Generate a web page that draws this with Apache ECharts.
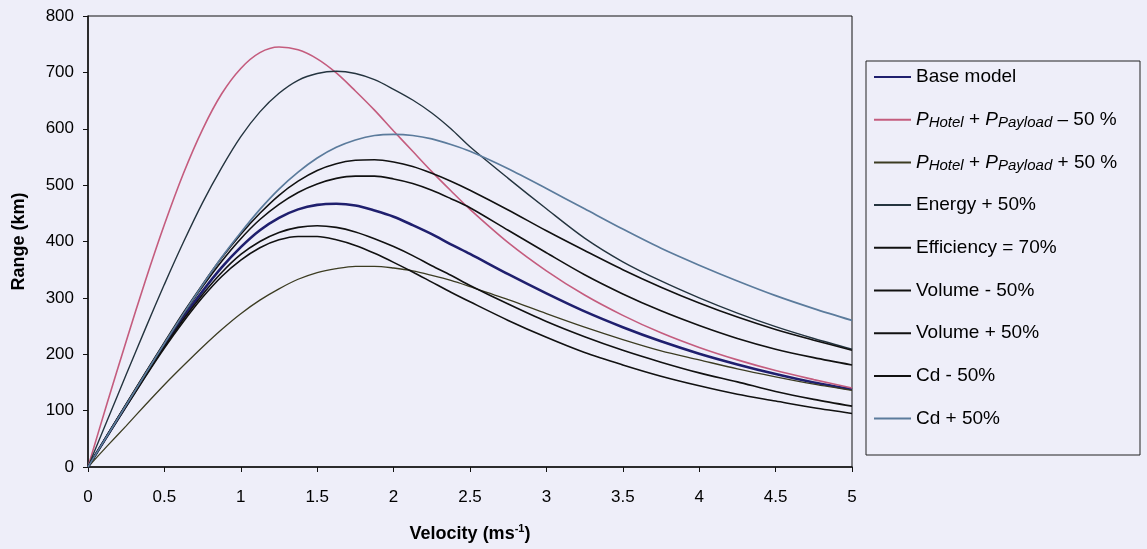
<!DOCTYPE html>
<html>
<head>
<meta charset="utf-8">
<style>
html, body { margin: 0; padding: 0; background: #eeeef9; }
#chart { width: 1147px; height: 549px; }
</style>
<script src="https://cdn.jsdelivr.net/npm/echarts/dist/echarts.min.js"></script>
</head>
<body>
<div id="chart"></div>
<script>
// velocity samples (m/s) and range readings (km)
const velocity = [0, 0.125, 0.25, 0.375, 0.5, 0.625, 0.75, 0.875, 1, 1.125, 1.25, 1.375, 1.5, 1.625, 1.75, 1.875, 2, 2.125, 2.25, 2.375, 2.5,
                  2.75, 3, 3.25, 3.5, 3.75, 4, 4.25, 4.5, 4.75, 5];

const baseModel  = [0, 55, 109, 163, 216, 266, 312, 354, 390, 420, 442, 457, 465, 467, 464, 455, 444, 429, 413, 395, 378,
                    342, 308, 276, 248, 223, 201, 182, 165, 150, 138];
const hotelMinus = [0, 113, 223, 330, 430, 521, 599, 662, 707, 735, 745, 740, 724, 699, 667, 633, 596, 560, 524, 490, 457,
                    398, 348, 305, 269, 238, 212, 190, 171, 155, 140];
const hotelPlus  = [0, 37, 73, 110, 146, 180, 213, 244, 272, 296, 316, 333, 345, 352, 356, 356, 353, 348, 340, 331, 320,
                    297, 272, 248, 226, 206, 190, 174, 160, 147, 136];
const energyPlus = [0, 82, 164, 245, 324, 399, 469, 531, 586, 630, 663, 686, 698, 702, 698, 687, 670, 651, 628, 600, 568,
                    512, 458, 406, 364, 330, 300, 273, 249, 228, 209];
const efficiency = [0, 56, 112, 167, 221, 274, 324, 371, 413, 450, 482, 507, 526, 538, 544, 545, 541, 533, 521, 507, 491,
                    456, 419, 384, 350, 319, 291, 266, 244, 225, 207];
const volMinus   = [0, 56, 111, 166, 219, 271, 320, 365, 405, 439, 466, 487, 502, 512, 516, 516, 511, 503, 491, 476, 460,
                    420, 380, 341, 307, 277, 251, 228, 209, 194, 181];
const volPlus    = [0, 55, 109, 162, 213, 262, 306, 345, 377, 400, 416, 425, 428, 425, 417, 405, 391, 375, 357, 340, 322,
                    289, 258, 231, 207, 186, 167, 151, 134, 120, 108];
const cdMinus    = [0, 54, 107, 160, 211, 258, 301, 338, 367, 389, 403, 409, 409, 403, 393, 379, 363, 346, 328, 310, 293,
                    260, 230, 203, 181, 161, 144, 129, 117, 105, 95];
const cdPlus     = [0, 55, 110, 165, 219, 272, 323, 372, 416, 457, 493, 523, 548, 567, 580, 588, 590, 588, 582, 572, 560,
                    529, 494, 458, 422, 388, 358, 330, 304, 281, 260];

const xTicks = { min: 0, max: 5, step: 0.5 };
const yTicks = { min: 0, max: 800, step: 100 };

const font = 'Liberation Sans, Arial, sans-serif';
const chart = echarts.init(document.getElementById('chart'));

function pairs(vals) {
  return velocity.map((v, i) => [v, vals[i]]);
}

function line(name, vals, color, width) {
  return {
    name: name,
    type: 'line',
    symbol: 'none',
    smooth: 0.3,
    data: pairs(vals),
    lineStyle: { color: color, width: width },
    itemStyle: { color: color }
  };
}

const legendText = {
  'PHotel + PPayload \u2013 50 %': '{i|P}{s|Hotel} + {i|P}{s|Payload} \u2013 50 %',
  'PHotel + PPayload + 50 %': '{i|P}{s|Hotel} + {i|P}{s|Payload} + 50 %'
};

let option = {
  backgroundColor: '#eeeef9',
  animation: false,
  grid: {
    left: 88,
    right: 295,
    top: 16,
    bottom: 82,
    show: true,
    borderColor: '#111',
    borderWidth: 1
  },
  legend: {
    orient: 'vertical',
    left: 873,
    top: 66,
    padding: 0,
    itemWidth: 37,
    itemHeight: 14,
    itemGap: 20.7,
    itemStyle: { opacity: 0 },
    formatter: function (name) {
      return legendText[name] || name;
    },
    textStyle: {
      fontFamily: font,
      fontSize: 19,
      lineHeight: 22,
      color: '#000',
      rich: {
        i: { fontFamily: font, fontSize: 19, lineHeight: 22, fontStyle: 'italic', color: '#000' },
        s: { fontFamily: font, fontSize: 15, lineHeight: 16, fontStyle: 'italic', verticalAlign: 'bottom', color: '#000' }
      }
    }
  },
  graphic: [{
    type: 'rect',
    shape: { x: 866, y: 61, width: 274, height: 394 },
    style: { fill: 'none', stroke: '#222', lineWidth: 1 },
    silent: true
  }],
  xAxis: {
    type: 'value',
    min: xTicks.min,
    max: xTicks.max,
    interval: xTicks.step,
    name: '{a|Velocity (ms}{b|-1}{a|)}',
    nameLocation: 'middle',
    nameGap: 56,
    nameTextStyle: {
      rich: {
        a: { fontFamily: font, fontSize: 18, fontWeight: 'bold', lineHeight: 22, color: '#000' },
        b: { fontFamily: font, fontSize: 11, fontWeight: 'bold', lineHeight: 11, verticalAlign: 'top', color: '#000' }
      }
    },
    splitLine: { show: false },
    axisLine: { lineStyle: { color: '#111', width: 1.5 } },
    axisTick: { length: 5, lineStyle: { color: '#111' } },
    axisLabel: { fontFamily: font, fontSize: 17, color: '#000', margin: 22 }
  },
  yAxis: {
    type: 'value',
    min: yTicks.min,
    max: yTicks.max,
    interval: yTicks.step,
    name: 'Range (km)',
    nameLocation: 'middle',
    nameGap: 60,
    nameTextStyle: { fontFamily: font, fontSize: 18, fontWeight: 'bold', color: '#000' },
    splitLine: { show: false },
    axisLine: { show: true, lineStyle: { color: '#111', width: 1.5 } },
    axisTick: { show: true, length: 5, lineStyle: { color: '#111' } },
    axisLabel: { fontFamily: font, fontSize: 17, color: '#000', margin: 14 }
  },
  series: [
    line('Base model', baseModel, '#1f1f6e', 2.6),
    line('PHotel + PPayload \u2013 50 %', hotelMinus, '#c45c7e', 1.6),
    line('PHotel + PPayload + 50 %', hotelPlus, '#3c3c22', 1.3),
    line('Energy + 50%', energyPlus, '#24343f', 1.4),
    line('Efficiency = 70%', efficiency, '#111111', 1.6),
    line('Volume - 50%', volMinus, '#111111', 1.6),
    line('Volume + 50%', volPlus, '#111111', 1.6),
    line('Cd - 50%', cdMinus, '#111111', 1.6),
    line('Cd + 50%', cdPlus, '#5b7b9c', 1.7)
  ]
};

chart.setOption(option);
</script>
</body>
</html>
